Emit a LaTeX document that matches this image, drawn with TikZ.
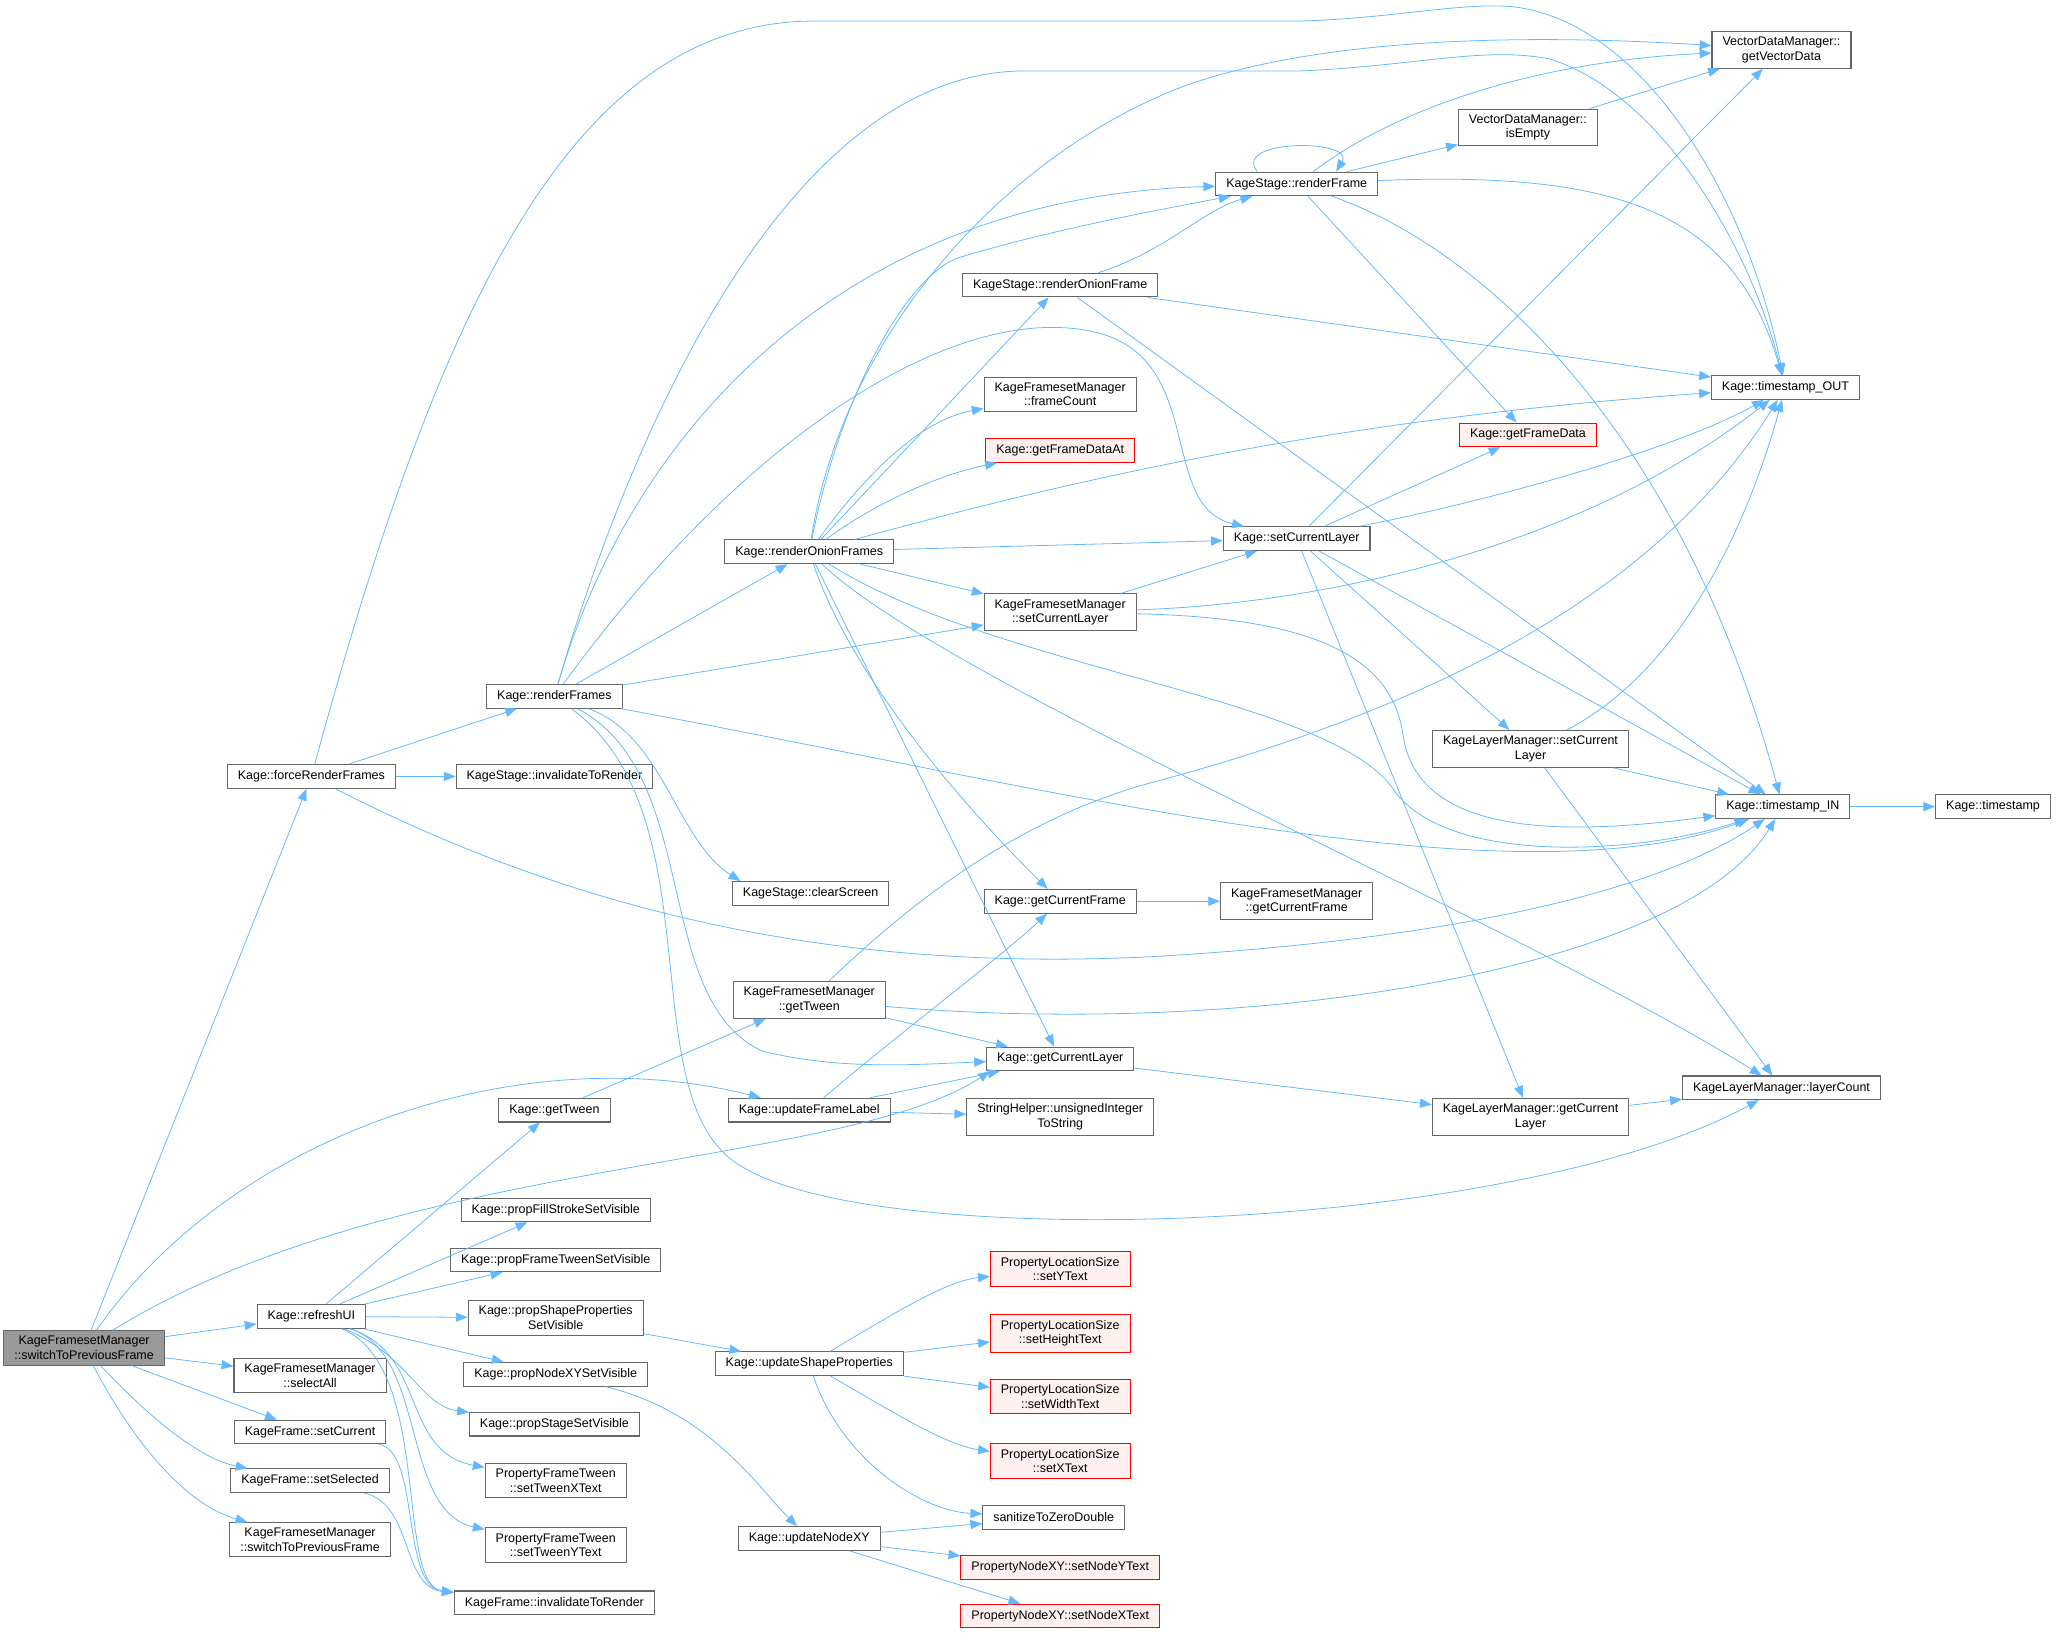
\documentclass[tikz,border=0pt]{standalone}
\usepackage{fontspec}
\setmainfont{Liberation Sans}
\usetikzlibrary{arrows.meta}
\definecolor{edgeblue}{HTML}{63B8FF}
\definecolor{boxgray}{HTML}{666666}
\definecolor{rootgray}{HTML}{999999}
\definecolor{misspink}{HTML}{FFF0F0}
\newcommand{\fnfont}{\fontsize{9.5}{11}\selectfont}

\begin{document}
\begin{tikzpicture}[x=1pt, y=-1pt,
    fn/.style={draw=boxgray, fill=white, line width=0.8pt, font=\fnfont, align=center,
        inner xsep=8pt, inner ysep=4.2pt, minimum height=18pt},
    fnroot/.style={fn, fill=rootgray},
    fnmiss/.style={fn, draw=red, fill=misspink},
    call/.style={color=edgeblue, line width=0.6pt, -{Triangle[length=9pt, width=7pt]}}]
                        \useasboundingbox (0,0) rectangle (1568,1245);
                        \node[fnroot] (main) at (64,1026) {KageFramesetManager\\::switchToPreviousFrame};
                        \node[fn] (force) at (237,591) {Kage::forceRenderFrames};
                        \node[fn] (refresh) at (237,1002) {Kage::refreshUI};
                        \node[fn] (selectall) at (236,1047) {KageFramesetManager\\::selectAll};
                        \node[fn] (setcurframe) at (236,1090) {KageFrame::setCurrent};
                        \node[fn] (setsel) at (236,1127) {KageFrame::setSelected};
                        \node[fn] (switchprev) at (236,1172) {KageFramesetManager\\::switchToPreviousFrame};
                        \node[fn] (renderframes) at (422,530) {Kage::renderFrames};
                        \node[fn] (stageinval) at (422,591) {KageStage::invalidateToRender};
                        \node[fn] (gettween) at (422,845) {Kage::getTween};
                        \node[fn] (propfill) at (423,921) {Kage::propFillStrokeSetVisible};
                        \node[fn] (propframe) at (423,959) {Kage::propFrameTweenSetVisible};
                        \node[fn] (propshape) at (423,1003) {Kage::propShapeProperties\\SetVisible};
                        \node[fn] (propnode) at (423,1046) {Kage::propNodeXYSetVisible};
                        \node[fn] (propstage) at (422,1084) {Kage::propStageSetVisible};
                        \node[fn] (tweenx) at (423,1127) {PropertyFrameTween\\::setTweenXText};
                        \node[fn] (tweeny) at (423,1176) {PropertyFrameTween\\::setTweenYText};
                        \node[fn] (frameinval) at (422,1220) {KageFrame::invalidateToRender};
                        \node[fn] (onionframes) at (616,420) {Kage::renderOnionFrames};
                        \node[fn] (clear) at (617,680) {KageStage::clearScreen};
                        \node[fn] (mgrtween) at (616,761) {KageFramesetManager\\::getTween};
                        \node[fn] (framelabel) at (616,845) {Kage::updateFrameLabel};
                        \node[fn] (shapeprops) at (616,1038) {Kage::updateShapeProperties};
                        \node[fn] (nodexy) at (616,1171) {Kage::updateNodeXY};
                        \node[fn] (onionframe) at (807,217) {KageStage::renderOnionFrame};
                        \node[fn] (framecount) at (807,300) {KageFramesetManager\\::frameCount};
                        \node[fnmiss] (framedataat) at (807,343) {Kage::getFrameDataAt};
                        \node[fn] (mgrsetlayer) at (807,466) {KageFramesetManager\\::setCurrentLayer};
                        \node[fn] (curframe) at (807,686) {Kage::getCurrentFrame};
                        \node[fn] (curlayer) at (807,806) {Kage::getCurrentLayer};
                        \node[fn] (uinttostr) at (807,850) {StringHelper::unsignedInteger\\ToString};
                        \node[fnmiss] (sety) at (807,966) {PropertyLocationSize\\::setYText};
                        \node[fnmiss] (setheight) at (807,1015) {PropertyLocationSize\\::setHeightText};
                        \node[fnmiss] (setwidth) at (807,1063) {PropertyLocationSize\\::setWidthText};
                        \node[fnmiss] (setx) at (807,1112) {PropertyLocationSize\\::setXText};
                        \node[fn] (sanitize) at (802,1155) {sanitizeToZeroDouble};
                        \node[fnmiss] (nodey) at (807,1193) {PropertyNodeXY::setNodeYText};
                        \node[fnmiss] (nodex) at (807,1230) {PropertyNodeXY::setNodeXText};
                        \node[fn] (renderframe) at (987,140) {KageStage::renderFrame};
                        \node[fn] (setlayer) at (987,410) {Kage::setCurrentLayer};
                        \node[fn] (mgrcurframe) at (987,686) {KageFramesetManager\\::getCurrentFrame};
                        \node[fn] (isempty) at (1163,97) {VectorDataManager::\\isEmpty};
                        \node[fnmiss] (framedata) at (1163,331) {Kage::getFrameData};
                        \node[fn] (lmsetcur) at (1165,570) {KageLayerManager::setCurrent\\Layer};
                        \node[fn] (lmgetcur) at (1165,850) {KageLayerManager::getCurrent\\Layer};
                        \node[fn] (vecdata) at (1356,38) {VectorDataManager::\\getVectorData};
                        \node[fn] (tsout) at (1359,295) {Kage::timestamp\_OUT};
                        \node[fn] (tsin) at (1357,614) {Kage::timestamp\_IN};
                        \node[fn] (layercount) at (1356,828) {KageLayerManager::layerCount};
                        \node[fn] (timestamp) at (1517,614) {Kage::timestamp};

                        \draw[call] (main) edge (force) edge (refresh) edge (selectall) edge (setcurframe);
                        \draw[call] (main) .. controls (110,1075) and (150,1110) .. (setsel);
                        \draw[call] (main) .. controls (100,1095) and (140,1145) .. (switchprev);
                        \draw[call] (main) .. controls (180,860) and (400,790) .. (framelabel);
                        \draw[call] (main) .. controls (300,880) and (640,890) .. (curlayer.190);

                        \draw[call] (force) edge (renderframes) edge (stageinval);
                        \draw[call] (force) .. controls (330,250) and (430,16) .. (620,16) -- (990,16)
                            .. controls (1060,14) and (1110,2) .. (1150,5) .. controls (1250,15) and (1330,150) .. (tsout);
                        \draw[call] (force) .. controls (450,700) and (650,740) .. (880,728)
                            .. controls (1100,715) and (1260,680) .. (tsin);

                        \draw[call] (renderframes) edge (onionframes) edge (mgrsetlayer);
                        \draw[call] (renderframes) .. controls (480,330) and (640,150) .. (renderframe);
                        \draw[call] (renderframes) .. controls (480,330) and (600,54) .. (780,54) -- (990,54)
                            .. controls (1080,50) and (1130,35) .. (1180,45) .. controls (1260,70) and (1330,180) .. (tsout);
                        \draw[call] (renderframes) .. controls (560,340) and (720,230) .. (830,252)
                            .. controls (920,270) and (880,385) .. (setlayer);
                        \draw[call] (renderframes) .. controls (505,560) and (515,640) .. (clear.170);
                        \draw[call] (renderframes) .. controls (535,590) and (495,760) .. (580,800)
                            .. controls (640,815) and (700,810) .. (curlayer);
                        \draw[call] (renderframes) .. controls (545,620) and (480,830) .. (560,885)
                            .. controls (660,955) and (1150,940) .. (layercount);
                        \draw[call] (renderframes) .. controls (800,600) and (1150,690) .. (tsin);

                        \draw[call] (onionframes) edge (onionframe) edge (setlayer) edge (mgrsetlayer) edge (curlayer);
                        \draw[call] (onionframes) .. controls (660,360) and (700,320) .. (framecount);
                        \draw[call] (onionframes) .. controls (670,380) and (720,360) .. (framedataat);
                        \draw[call] (onionframes) .. controls (640,300) and (690,210) .. (730,196)
                            .. controls (800,175) and (880,160) .. (renderframe);
                        \draw[call] (onionframes) .. controls (640,260) and (760,120) .. (900,66)
                            .. controls (1000,30) and (1150,25) .. (vecdata);
                        \draw[call] (onionframes) .. controls (800,370) and (1000,320) .. (tsout);
                        \draw[call] (onionframes) .. controls (650,520) and (740,620) .. (curframe);
                        \draw[call] (onionframes) .. controls (760,510) and (1010,530) .. (1060,600)
                            .. controls (1100,660) and (1250,650) .. (tsin);
                        \draw[call] (onionframes) .. controls (720,520) and (1150,700) .. (layercount);

                        \draw[call] (onionframe) .. controls (890,190) and (915,160) .. (renderframe);
                        \draw[call] (onionframe) edge (tsout) edge (tsin);

                        \draw[call] ([xshift=-30pt]renderframe.north) .. controls +(-20,-25) and +(15,-25) .. ([xshift=30pt]renderframe.north);
                        \draw[call] (renderframe) .. controls (1080,70) and (1200,45) .. (vecdata);
                        \draw[call] (renderframe) edge (isempty) edge (framedata);
                        \draw[call] (renderframe) .. controls (1230,130) and (1320,160) .. (tsout);
                        \draw[call] (renderframe) .. controls (1130,190) and (1280,330) .. (tsin);
                        \draw[call] (isempty) -- (vecdata);

                        \draw[call] (setlayer) edge (vecdata) edge (framedata) edge (lmsetcur) edge (tsin) edge (lmgetcur);
                        \draw[call] (setlayer) .. controls (1140,380) and (1280,340) .. (tsout);
                        \draw[call] (mgrsetlayer) -- (setlayer);
                        \draw[call] (mgrsetlayer) .. controls (1000,460) and (1200,420) .. (tsout);
                        \draw[call] (mgrsetlayer) .. controls (1000,470) and (1060,500) .. (1068,560)
                            .. controls (1080,640) and (1200,635) .. (tsin);
                        \draw[call] (lmsetcur) .. controls (1280,510) and (1330,400) .. (tsout);
                        \draw[call] (lmsetcur) edge (tsin) edge (layercount);
                        \draw[call] (tsin) -- (timestamp);

                        \draw[call] (curframe) -- (mgrcurframe);
                        \draw[call] (gettween) -- (mgrtween);
                        \draw[call] (mgrtween) -- (curlayer);
                        \draw[call] (mgrtween) .. controls (680,700) and (760,630) .. (868,598)
                            .. controls (1050,550) and (1250,470) .. (tsout);
                        \draw[call] (mgrtween) .. controls (950,790) and (1280,740) .. (tsin);
                        \draw[call] (framelabel) .. controls (680,790) and (760,730) .. (curframe);
                        \draw[call] (framelabel) edge (curlayer) edge (uinttostr);
                        \draw[call] (curlayer) -- (lmgetcur);
                        \draw[call] (lmgetcur) -- (layercount);

                        \draw[call] (refresh) edge (gettween) edge (propfill) edge (propframe) edge (propshape) edge (propnode);
                        \draw[call] (refresh) .. controls (310,1030) and (320,1070) .. (propstage);
                        \draw[call] (refresh) .. controls (325,1030) and (305,1105) .. (tweenx);
                        \draw[call] (refresh) .. controls (325,1030) and (305,1150) .. (tweeny);
                        \draw[call] (refresh) .. controls (330,1040) and (300,1207) .. (frameinval);
                        \draw[call] (setcurframe) .. controls (320,1105) and (305,1208) .. (frameinval);
                        \draw[call] (setsel) .. controls (315,1145) and (305,1208) .. (frameinval);

                        \draw[call] (propshape) -- (shapeprops);
                        \draw[call] (propnode) .. controls (540,1075) and (575,1130) .. (nodexy);
                        \draw[call] (shapeprops) .. controls (680,1000) and (720,975) .. (sety);
                        \draw[call] (shapeprops) edge (setheight) edge (setwidth);
                        \draw[call] (shapeprops) .. controls (680,1075) and (720,1100) .. (setx);
                        \draw[call] (shapeprops) .. controls (640,1110) and (700,1150) .. (sanitize);
                        \draw[call] (nodexy) edge (sanitize) edge (nodey) edge (nodex);
\end{tikzpicture}
\end{document}
